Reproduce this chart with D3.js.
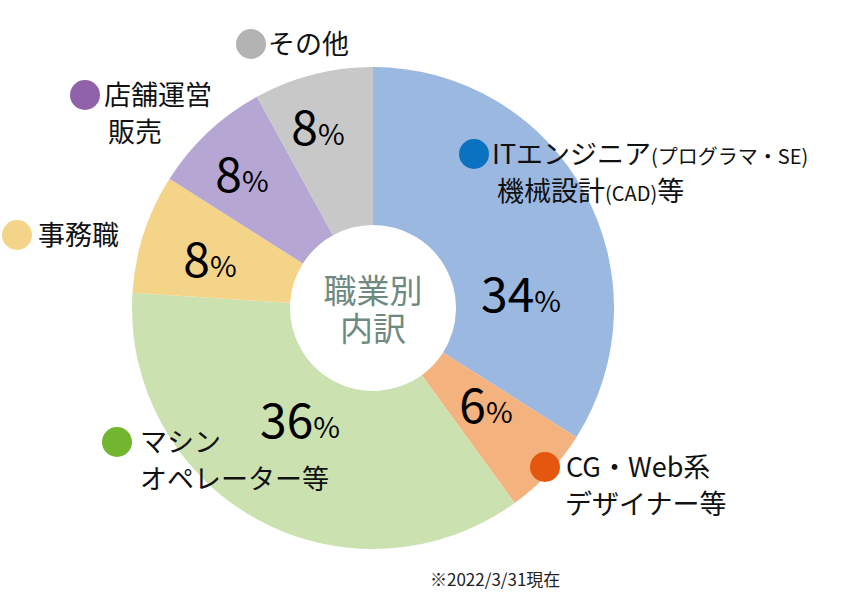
<!DOCTYPE html>
<html><head><meta charset="utf-8">
<script src="https://cdn.jsdelivr.net/npm/d3@7"></script>
<style>body{margin:0;background:#fff}text{font-family:"Noto Sans CJK JP","Noto Sans",sans-serif}</style>
</head><body>
<script>
// data
const categories = ["IT", "CG", "マシン", "事務職", "店舗", "その他"];
const shares = [34, 6, 36, 8, 8, 8];
const sliceColors = ["#9bb8e1", "#f4b27f", "#cbe2b0", "#f4d488", "#b5a6d4", "#c8c8c8"];
const dotColors = ["#0b72c1", "#e5560e", "#72b52f", "#f4d488", "#8f62aa", "#b3b3b3"];
const outerLabels = [
  ["ITエンジニア(プログラマ・SE)", "機械設計(CAD)等"],
  ["CG・Web系", "デザイナー等"],
  ["マシン", "オペレーター等"],
  ["事務職"],
  ["店舗運営", "販売"],
  ["その他"]
];
// layout: [first-line x, baseline y, dot x, second-line x]
const W = 860, H = 616, cx = 373, cy = 308, R = 241, r0 = 83;
const pctPos = [[148, -13], [113, 98], [-73, 113], [-163, -48], [-131, -133], [-55, -180]];
const outerPos = [[492, 164, 474, 497], [566, 477, 545, 565], [140, 452, 117, 140], [38, 245, 17, 38], [104, 105, 85, 108], [268, 54, 251, 268]];

const svg = d3.select("body").append("svg").attr("width", W).attr("height", H);
const pie = d3.pie().sort(null).value(d => d)(shares);
const arc = d3.arc().innerRadius(r0).outerRadius(R);
const g = svg.append("g").attr("transform", `translate(${cx},${cy})`);
g.selectAll("path").data(pie).join("path").attr("d", arc).attr("fill", (d, i) => sliceColors[i]);

g.selectAll("text.pct").data(pie).join("text").attr("class", "pct")
  .attr("x", (d, i) => pctPos[i][0]).attr("y", (d, i) => pctPos[i][1] + 17)
  .attr("text-anchor", "middle")
  .each(function(d) {
    const t = d3.select(this);
    t.append("tspan").attr("font-size", 48).text(d.data);
    t.append("tspan").attr("font-size", 29).text("%");
  });

g.append("text").attr("text-anchor", "middle").attr("y", -5).attr("font-size", 33).attr("fill", "#6e8a80").text("職業別");
g.append("text").attr("text-anchor", "middle").attr("y", 33).attr("font-size", 33).attr("fill", "#6e8a80").text("内訳");

outerLabels.forEach((lines, i) => {
  const [x, y, dx, x2] = outerPos[i];
  svg.append("circle").attr("cx", dx).attr("cy", y - 10).attr("r", 15).attr("fill", dotColors[i]);
  lines.forEach((s, j) => {
    const t = svg.append("text").attr("x", j === 0 ? x : x2)
      .attr("y", y + j * 37).attr("font-size", 27).attr("fill", "#111");
    const m = s.match(/^(.*?)(\(.*?\))(.*)$/);
    if (m) {
      t.append("tspan").text(m[1]);
      t.append("tspan").attr("font-size", 20).text(m[2]);
      t.append("tspan").text(m[3]);
    } else t.text(s);
  });
});

svg.append("text").attr("x", 430).attr("y", 586).attr("font-size", 17).attr("fill", "#222").text("※2022/3/31現在");
</script>
</body></html>
